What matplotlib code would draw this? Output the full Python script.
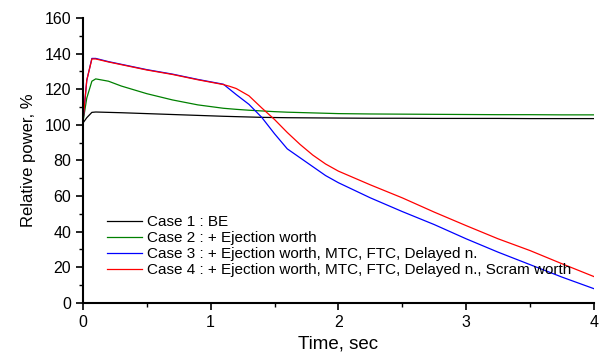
import matplotlib
matplotlib.use("Agg")
import matplotlib.pyplot as plt
from matplotlib.ticker import MultipleLocator

plt.rcParams['font.family'] = ['Liberation Sans', 'DejaVu Sans']

time = [0, 0.03, 0.07, 0.1, 0.2, 0.3, 0.5, 0.7, 0.9, 1.1, 1.15, 1.2, 1.3, 1.4,
        1.5, 1.6, 1.7, 1.8, 1.9, 2.0, 2.25, 2.5, 2.75, 3.0, 3.25, 3.5, 3.75, 4.0]
case1 = [101, 104, 107, 107.2, 107, 106.8, 106.3, 105.8, 105.3, 104.8, 104.7, 104.6,
         104.4, 104.2, 104.1, 104, 103.95, 103.9, 103.85, 103.8, 103.7, 103.7, 103.6,
         103.6, 103.6, 103.5, 103.5, 103.5]
case2 = [101.5, 115, 124.5, 125.8, 124.5, 121.8, 117.5, 114, 111.2, 109.3, 109, 108.7,
         108.2, 107.8, 107.4, 107.1, 106.9, 106.7, 106.5, 106.3, 106.1, 106, 105.9,
         105.8, 105.7, 105.7, 105.6, 105.6]
case3 = [101.5, 125, 137.3, 137.3, 135.5, 134, 131, 128.5, 125.5, 122.8, 119.9, 117,
         111.5, 104.2, 95, 86.5, 81.5, 76.5, 71.5, 67.5, 59, 51.3, 44, 36, 28.5, 21.5,
         14.5, 8]
case4 = [101.5, 125, 137, 137, 135.3, 133.8, 130.8, 128.3, 125.3, 122.6, 121.6, 120.4,
         116.3, 109.5, 103, 95.7, 89, 83, 78, 74, 66.3, 59, 51, 43.4, 36, 29.4, 22, 14.8]

labels = ["Case 1 : BE",
          "Case 2 : + Ejection worth",
          "Case 3 : + Ejection worth, MTC, FTC, Delayed n.",
          "Case 4 : + Ejection worth, MTC, FTC, Delayed n., Scram worth"]
colors = ["black", "#008000", "blue", "red"]

fig = plt.figure(figsize=(6.01, 3.53), dpi=100)
ax = fig.add_axes([0.138, 0.142, 0.850, 0.807])

for y, lab, c in zip([case1, case2, case3, case4], labels, colors):
    ax.plot(time, y, color=c, lw=0.9, label=lab)

ax.set_xlim(0, 4)
ax.set_ylim(0, 160)
ax.xaxis.set_major_locator(MultipleLocator(1))
ax.xaxis.set_minor_locator(MultipleLocator(0.5))
ax.yaxis.set_major_locator(MultipleLocator(20))
ax.yaxis.set_minor_locator(MultipleLocator(10))
ax.spines['top'].set_visible(False)
ax.spines['right'].set_visible(False)
for s in ['left', 'bottom']:
    ax.spines[s].set_linewidth(1.5)
ax.tick_params(which='major', length=5, width=1.2, labelsize=11.5, direction='out')
ax.tick_params(which='minor', length=3, width=1.0, direction='out')

ax.set_xlabel("Time, sec", fontsize=13.5, labelpad=4)
ax.set_ylabel("Relative power, %", fontsize=12, labelpad=6)

ax.legend(loc='upper left', bbox_to_anchor=(0.047, 0.307), frameon=False,
          fontsize=11, handlelength=2.3, handletextpad=0.3, labelspacing=0.13,
          borderpad=0, borderaxespad=0)

fig.savefig("out.png", dpi=100)
